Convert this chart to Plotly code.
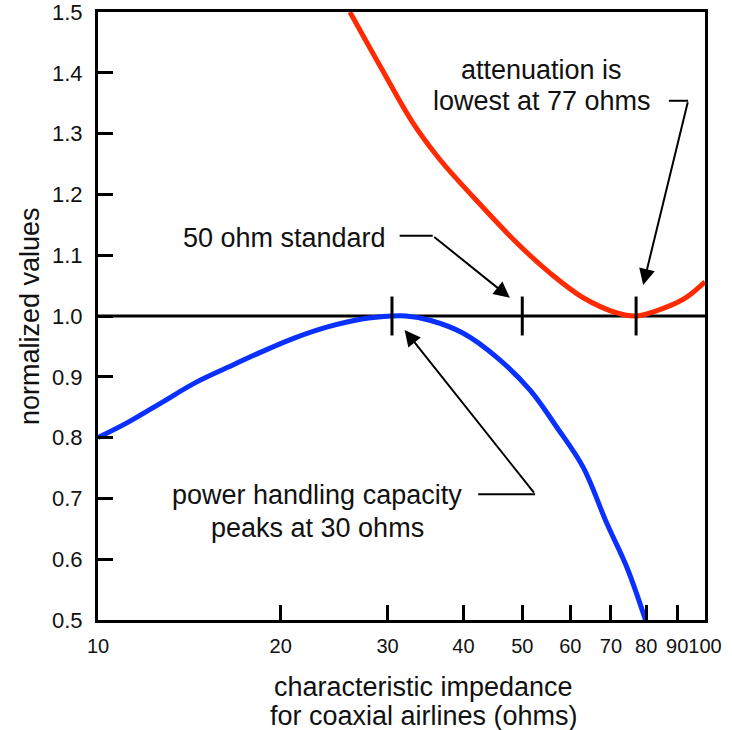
import numpy as np
import plotly.graph_objects as go

# ---- data ----
atten_z = [26.0, 29.2, 33.0, 36.6, 41.5, 49.0, 55.5, 63.0, 71.6, 77.0, 86.6, 93.3, 100.0]
atten_v = [1.50, 1.41, 1.318, 1.257, 1.196, 1.120, 1.071, 1.030, 1.005, 1.000, 1.015, 1.031, 1.056]

power_z = [10.0, 11.2, 12.75, 14.45, 16.4, 18.6, 21.1, 23.9, 27.2, 30.5, 32.2, 35.2, 39.9, 45.4, 51.5, 57.0, 63.0, 68.9, 74.4, 79.8]
power_v = [0.80, 0.825, 0.858, 0.890, 0.916, 0.941, 0.964, 0.982, 0.995, 1.000, 1.000, 0.993, 0.972, 0.932, 0.878, 0.817, 0.751, 0.659, 0.586, 0.50]

marker_z = [30.5, 50.0, 77.0]
ref_level = 1.0

x_ticks = [10, 20, 30, 40, 50, 60, 70, 80, 90, 100]
x_ticktext = [str(v) for v in x_ticks]
y_ticks = [0.5, 0.6, 0.7, 0.8, 0.9, 1.0, 1.1, 1.2, 1.3, 1.4, 1.5]
y_ticktext = ["%.1f" % v for v in y_ticks]

FONT = "Liberation Sans, Arial, Helvetica, sans-serif"
RED = "#ff2a00"
BLUE = "#0a30ff"
TXT = 27

fig = go.Figure()

# reference line at 1.0
fig.add_trace(go.Scatter(x=[10, 100], y=[ref_level, ref_level], mode="lines",
                         line=dict(color="black", width=3), hoverinfo="skip"))

fig.add_trace(go.Scatter(x=atten_z, y=atten_v, mode="lines",
                         line=dict(color=RED, width=5, shape="spline", smoothing=1.0),
                         hoverinfo="skip"))
fig.add_trace(go.Scatter(x=power_z, y=power_v, mode="lines",
                         line=dict(color=BLUE, width=5, shape="spline", smoothing=1.0),
                         hoverinfo="skip"))

# vertical marker ticks on the 1.0 line
for z in marker_z:
    fig.add_trace(go.Scatter(x=[z, z], y=[ref_level - 0.032, ref_level + 0.032], mode="lines",
                             line=dict(color="black", width=3), hoverinfo="skip"))

# elbow leader lines (horizontal parts)
leaders = [
    ([87.2, 93.8], [1.354, 1.354]),   # attenuation
    ([31.4, 35.6], [1.132, 1.132]),   # 50 ohm
    ([42.3, 52.5], [0.707, 0.707]),   # power
]
for lx, ly in leaders:
    fig.add_trace(go.Scatter(x=lx, y=ly, mode="lines",
                             line=dict(color="black", width=2), hoverinfo="skip"))

# arrows (diagonal parts): tail -> head
arrows = [
    ((93.8, 1.354), (79.1, 1.051)),
    ((35.6, 1.132), (47.7, 1.030)),
    ((52.5, 0.707), (32.0, 0.977)),
]
annotations = []
for (tx, ty), (hx, hy) in arrows:
    annotations.append(dict(x=np.log10(hx), y=hy, ax=np.log10(tx), ay=ty,
                            xref="x", yref="y", axref="x", ayref="y",
                            text="", showarrow=True, arrowhead=2, arrowsize=1.6,
                            arrowwidth=2, arrowcolor="black", standoff=0, startstandoff=0))

texts = [
    (53.8, 1.405, "attenuation is"),
    (53.8, 1.354, "lowest at 77 ohms"),
    (20.3, 1.128, "50 ohm standard"),
    (22.95, 0.705, "power handling capacity"),
    (22.95, 0.652, "peaks at 30 ohms"),
]
for x, y, t in texts:
    annotations.append(dict(x=np.log10(x), y=y, xref="x", yref="y", text=t, showarrow=False,
                            font=dict(family=FONT, size=TXT, color="#111111"),
                            xanchor="center", yanchor="middle", align="center"))

# axis titles
for y, t in [(-0.110, "characteristic impedance"), (-0.158, "for coaxial airlines (ohms)")]:
    annotations.append(dict(x=0.537, y=y, xref="paper", yref="paper", text=t,
                            showarrow=False, font=dict(family=FONT, size=TXT, color="#111111"),
                            xanchor="center", yanchor="middle", align="center"))
annotations.append(dict(x=-0.112, y=0.5, xref="paper", yref="paper",
                        text="normalized values", textangle=-90,
                        showarrow=False, font=dict(family=FONT, size=TXT, color="#111111"),
                        xanchor="center", yanchor="middle"))

fig.update_layout(
    width=732, height=730,
    margin=dict(l=98, r=27, t=12, b=110, autoexpand=False),
    paper_bgcolor="white", plot_bgcolor="white",
    showlegend=False, hovermode=False,
    annotations=annotations,
    font=dict(family=FONT, color="#111111"),
)
fig.update_xaxes(type="log", range=[1, 2], tickvals=x_ticks, ticktext=x_ticktext,
                 ticks="inside", ticklen=15, tickwidth=3, tickcolor="black",
                 showline=True, linewidth=3, linecolor="black", mirror=True,
                 showgrid=False, zeroline=False, automargin=False, tickangle=0,
                 ticklabeloverflow="allow", ticklabelstandoff=6,
                 tickfont=dict(family=FONT, size=20, color="#111111"))
fig.update_yaxes(range=[0.5, 1.5], tickvals=y_ticks, ticktext=y_ticktext,
                 ticks="inside", ticklen=15, tickwidth=3, tickcolor="black",
                 showline=True, linewidth=3, linecolor="black", mirror=True,
                 showgrid=False, zeroline=False, automargin=False, ticklabelstandoff=8,
                 ticklabeloverflow="allow",
                 tickfont=dict(family=FONT, size=22, color="#111111"))

fig.write_html("out.html", config={"displayModeBar": False},
               post_script="document.body.style.margin='0px';")
